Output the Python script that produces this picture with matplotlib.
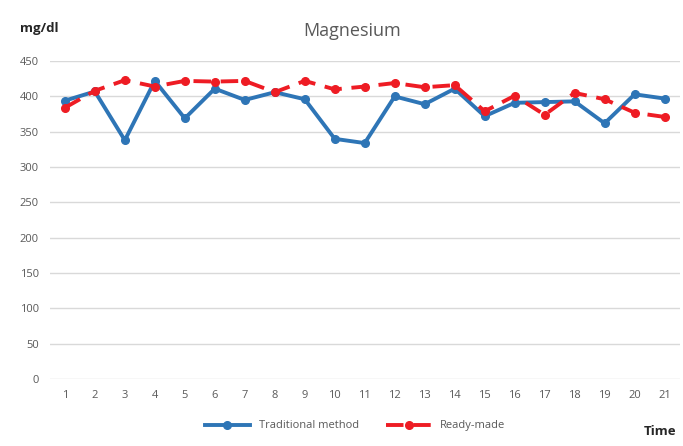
import matplotlib.pyplot as plt

# readings over time (mg/dl)
times = list(range(1, 22))
traditional = [394, 407, 338, 422, 369, 411, 395, 406, 396, 340, 334,
               400, 389, 411, 372, 391, 392, 393, 362, 403, 397]
ready_made = [384, 408, 423, 414, 422, 421, 422, 406, 422, 410, 414,
              419, 413, 416, 379, 401, 374, 405, 396, 377, 371]
y_ticks = list(range(0, 451, 50))

plt.rcParams['font.family'] = ['Open Sans', 'DejaVu Sans']

fig = plt.figure(figsize=(6.83, 4.46), dpi=100)
ax = fig.add_axes([0.073, 0.150, 0.922, 0.713])

ax.plot(times, traditional, color='#2e75b6', lw=2.8, marker='o', ms=5.5,
        label='Traditional method', zorder=3)
ax.plot(times, ready_made, color='#ee1c24', lw=2.8, ls=(0, (4.5, 2.5)), marker='o',
        ms=5.5, label='Ready-made', zorder=4)

ax.set_xlim(0.5, 21.5)
ax.set_ylim(0, 450)
ax.set_xticks(times)
ax.set_yticks(y_ticks)
ax.grid(axis='y', color='#d9d9d9', lw=1)
ax.set_axisbelow(True)
for s in ax.spines.values():
    s.set_visible(False)
ax.tick_params(length=0, labelsize=8, colors='#595959', pad=8)

fig.text(0.515, 0.93, 'Magnesium', ha='center', va='center', fontsize=13, color='#595959')
fig.text(0.03, 0.935, 'mg/dl', ha='left', va='center', fontsize=9.5, fontweight='bold', color='#262626')
fig.text(0.99, 0.018, 'Time', ha='right', va='bottom', fontsize=9.5, fontweight='bold', color='#262626')

fig.legend(loc='center', bbox_to_anchor=(0.52, 0.045), ncol=2, frameon=False,
           fontsize=8, labelcolor='#595959', handlelength=4, columnspacing=2.5)

fig.savefig('out.png', dpi=100)
